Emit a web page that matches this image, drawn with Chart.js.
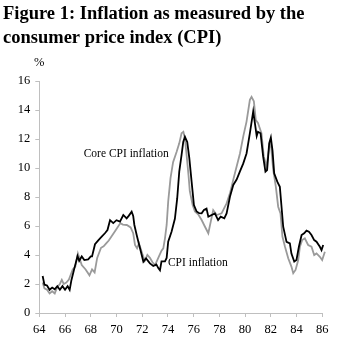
<!DOCTYPE html>
<html>
<head>
<meta charset="utf-8">
<script src="https://cdn.jsdelivr.net/npm/chart.js@4.4.1/dist/chart.umd.min.js"></script>
<style>
  html, body { margin: 0; padding: 0; background: #fff; }
  #wrap { width: 350px; height: 359px; position: relative; }
</style>
</head>
<body>
<div id="wrap"><canvas id="c" width="350" height="359"></canvas></div>
<script>
// Title and annotation text
const titleLines = ["Figure 1: Inflation as measured by the", "consumer price index (CPI)"];
const yAxisUnit = "%";
const coreLabel = "Core CPI inflation";
const cpiLabel = "CPI inflation";

// Axis ticks
const xTicks = [64, 66, 68, 70, 72, 74, 76, 78, 80, 82, 84, 86];
const yTicks = [0, 2, 4, 6, 8, 10, 12, 14, 16];

// Core CPI inflation (black line): time (year, 19xx) and percent
const coreYears = [64.26, 64.4, 64.6, 64.8, 65.0, 65.2, 65.4, 65.6, 65.8, 66.0, 66.2, 66.36, 66.5, 66.76, 66.97, 67.1, 67.3, 67.5, 67.8, 68.0, 68.1,
  68.33, 68.6, 68.85, 69.1, 69.3, 69.5, 69.75, 70.0, 70.27, 70.53, 70.79, 70.95, 71.18, 71.3, 71.39, 71.57, 71.7, 71.83, 71.96, 72.09, 72.3, 72.6, 72.86,
  73.1, 73.25, 73.38, 73.5, 73.77, 73.9, 74.02, 74.28, 74.54, 74.72, 74.88, 75.06, 75.19, 75.32, 75.5, 75.66, 75.84, 76.02, 76.23, 76.43, 76.62, 76.8,
  77.0, 77.14, 77.4, 77.65, 77.9, 78.1, 78.38, 78.56, 78.82, 79.08, 79.34, 79.59, 79.85, 80.11, 80.37, 80.63, 80.76, 80.9, 81.0, 81.2, 81.4, 81.58,
  81.71, 81.87, 82.0, 82.13, 82.26, 82.5, 82.7, 82.83, 82.96, 83.22, 83.48, 83.6, 83.82, 83.99, 84.18, 84.39, 84.59, 84.77, 84.96, 85.16, 85.37,
  85.55, 85.81, 85.94, 86.07, 86.2];
const coreValues = [2.55, 1.95, 1.9, 1.6, 1.75, 1.63, 1.85, 1.6, 1.85, 1.6, 1.85, 1.6, 2.28, 3.2, 3.93, 3.6, 3.9, 3.65, 3.7, 3.9, 3.9,
  4.74, 5.03, 5.26, 5.5, 5.72, 6.4, 6.2, 6.4, 6.3, 6.76, 6.53, 6.7, 6.99, 6.7, 6.07, 5.38, 4.92, 4.46, 4.0, 3.54, 3.77, 3.42, 3.24,
  3.35, 3.1, 2.95, 3.56, 3.56, 3.8, 4.92, 5.6, 6.5, 7.9, 9.75, 10.9, 11.8, 12.16, 11.8, 10.7, 9.06, 7.45, 7.0, 6.88, 6.87, 7.1,
  7.2, 6.64, 6.76, 6.87, 6.41, 6.64, 6.53, 6.87, 8.02, 8.83, 9.2, 9.75, 10.3, 11.0, 12.4, 13.9, 13.1, 12.2, 12.5, 12.4, 10.8, 9.75,
  9.86, 11.7, 12.1, 11.2, 9.63, 9.06, 8.7, 7.33, 5.95, 4.9, 4.8, 4.1, 3.54, 3.65, 4.57, 5.38, 5.5, 5.68, 5.6, 5.38, 5.03,
  4.92, 4.57, 4.34, 4.69, 4.69];

// CPI inflation (grey line)
const cpiYears = [64.26, 64.4, 64.6, 64.8, 65.0, 65.2, 65.4, 65.6, 65.75, 65.9, 66.1, 66.3, 66.6, 66.8, 67.0, 67.3, 67.6, 67.9, 68.1, 68.3,
  68.5, 68.8, 69.0, 69.2, 69.4, 69.7, 70.0, 70.3, 70.5, 70.8, 71.1, 71.3, 71.44, 71.6, 71.75, 72.0, 72.2, 72.4, 72.6, 72.8, 73.0, 73.25,
  73.5, 73.64, 73.77, 73.9, 74.02, 74.2, 74.4, 74.67, 74.88, 75.06, 75.2, 75.32, 75.45, 75.6, 75.7, 75.92, 76.1, 76.35, 76.62, 76.88,
  77.14, 77.3, 77.52, 77.8, 78.17, 78.56, 78.82, 79.08, 79.34, 79.6, 79.86, 80.11, 80.37, 80.5, 80.68, 80.83, 81.0, 81.27, 81.45, 81.66,
  81.87, 82.0, 82.18, 82.39, 82.57, 82.75, 82.9, 83.09, 83.35, 83.6, 83.74, 83.92, 84.13, 84.26, 84.44, 84.64, 84.9, 85.16, 85.37,
  85.55, 85.81, 85.99, 86.2];
const cpiValues = [2.1, 1.7, 1.6, 1.35, 1.5, 1.35, 1.8, 2.0, 2.28, 2.0, 2.1, 2.3, 3.0, 3.2, 4.1, 3.3, 3.0, 2.6, 3.0, 2.8,
  3.8, 4.5, 4.6, 4.8, 5.0, 5.4, 5.8, 6.2, 6.1, 6.07, 5.9, 5.5, 4.69, 4.46, 4.8, 4.1, 3.6, 4.0, 3.8, 3.5, 3.3, 3.8,
  4.3, 4.46, 5.15, 6.07, 7.68, 9.3, 10.4, 11.1, 11.7, 12.4, 12.5, 12.05, 10.9, 9.5, 8.4, 7.45, 7.0, 6.8, 6.41, 5.95,
  5.5, 6.18, 7.1, 6.76, 6.87, 7.56, 8.25, 9.2, 10.1, 11.0, 12.2, 13.2, 14.7, 14.9, 14.6, 13.3, 13.1, 12.4, 10.8, 10.1,
  11.4, 11.7, 9.9, 8.7, 7.33, 6.87, 5.27, 4.6, 3.77, 3.2, 2.74, 2.97, 3.65, 4.57, 5.03, 5.15, 4.69, 4.57, 4.0,
  4.11, 3.88, 3.65, 4.23];

const toPoints = (xs, ys) => xs.map((x, i) => ({ x: x, y: ys[i] }));

const serif = '"Liberation Serif", "Times New Roman", Times, serif';
const axisGrey = '#bfbfbf';

const textPlugin = {
  id: 'texts',
  afterDraw(chart) {
    const ctx = chart.ctx;
    const xs = chart.scales.x, ys = chart.scales.y;
    ctx.save();
    ctx.fillStyle = '#000';
    ctx.textAlign = 'left';
    ctx.textBaseline = 'alphabetic';
    ctx.font = 'bold 18.5px ' + serif;
    ctx.fillText(titleLines[0], 3, 19);
    ctx.fillText(titleLines[1], 3, 43);
    ctx.font = '12.5px ' + serif;
    ctx.textAlign = 'center';
    ctx.textBaseline = 'middle';
    ctx.fillText(yAxisUnit, xs.left, 63);
    ctx.font = '11.5px ' + serif;
    ctx.textAlign = 'left';
    ctx.fillText(coreLabel, xs.getPixelForValue(67.45), ys.getPixelForValue(11.0));
    ctx.fillText(cpiLabel, xs.getPixelForValue(74.0), ys.getPixelForValue(3.45));
    ctx.restore();
  }
};

new Chart(document.getElementById('c'), {
  type: 'line',
  data: {
    datasets: [
      {
        label: coreLabel,
        data: toPoints(coreYears, coreValues),
        borderColor: '#000000',
        borderWidth: 1.8,
        pointRadius: 0,
        tension: 0,
        fill: false
      },
      {
        label: cpiLabel,
        data: toPoints(cpiYears, cpiValues),
        borderColor: '#9a9a9a',
        borderWidth: 1.8,
        pointRadius: 0,
        tension: 0,
        fill: false
      }
    ]
  },
  options: {
    responsive: false,
    animation: false,
    devicePixelRatio: 1,
    clip: false,
    layout: { padding: { top: 81, left: 0, right: 27.7, bottom: 0 } },
    plugins: { legend: { display: false }, title: { display: false }, tooltip: { enabled: false } },
    scales: {
      x: {
        type: 'linear',
        min: xTicks[0],
        max: xTicks[xTicks.length - 1],
        afterBuildTicks: (s) => { s.ticks = xTicks.map(v => ({ value: v })); },
        afterFit: (s) => { s.height = 46; },
        ticks: { color: '#000', font: { family: serif, size: 12.5 }, padding: 5, maxRotation: 0, autoSkip: false,
          callback: (v) => String(v) },
        grid: { drawOnChartArea: false, drawTicks: true, tickLength: 4, color: axisGrey },
        border: { display: true, color: axisGrey, width: 1 }
      },
      y: {
        type: 'linear',
        min: yTicks[0],
        max: yTicks[yTicks.length - 1],
        afterBuildTicks: (s) => { s.ticks = yTicks.map(v => ({ value: v })); },
        afterFit: (s) => { s.width = 39.3; },
        ticks: { color: '#000', font: { family: serif, size: 12.5 }, padding: 5, autoSkip: false,
          callback: (v) => String(v) },
        grid: { drawOnChartArea: false, drawTicks: true, tickLength: 4, color: axisGrey },
        border: { display: true, color: axisGrey, width: 1 }
      }
    }
  },
  plugins: [textPlugin]
});
</script>
</body>
</html>
